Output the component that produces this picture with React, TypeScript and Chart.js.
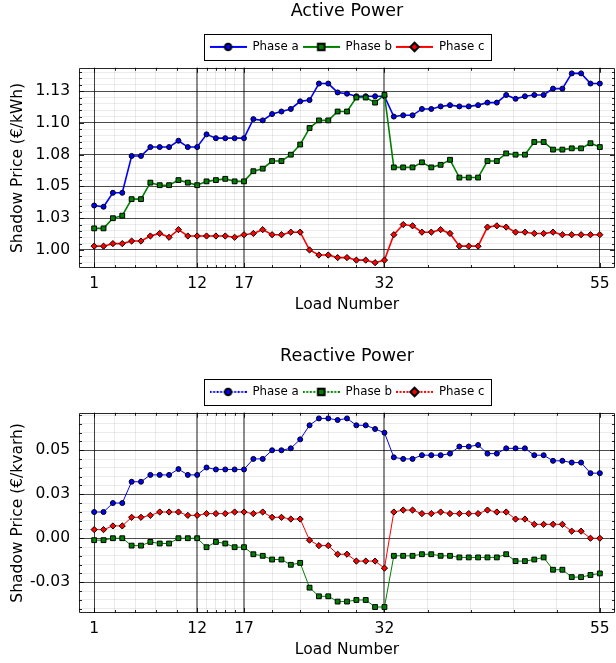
import React, { useEffect, useRef } from 'react';
import { Chart, registerables } from 'chart.js';

Chart.register(...registerables);

const FONT = "'DejaVu Sans', sans-serif";

// ---------- data ----------
const loads = [
  1, 2, 3, 4, 5, 6, 7, 8, 9, 10, 11, 12, 13, 14, 15, 16, 17, 18, 19, 20,
  21, 22, 23, 24, 25, 26, 27, 28, 29, 30, 31, 32, 33, 34, 35, 36, 37, 38, 39, 40,
  41, 42, 43, 44, 45, 46, 47, 48, 49, 50, 51, 52, 53, 54, 55,
];
const xTickValues = [1, 12, 17, 32, 55];
const xTickLabels = ['1', '12', '17', '32', '55'];
const seriesNames = ['Phase a', 'Phase b', 'Phase c'];

const activeA = [
  1.035, 1.034, 1.045, 1.045, 1.074, 1.074, 1.081, 1.081, 1.081, 1.086,
  1.081, 1.081, 1.091, 1.088, 1.088, 1.088, 1.088, 1.103, 1.102, 1.107,
  1.109, 1.111, 1.117, 1.118, 1.131, 1.131, 1.124, 1.123, 1.121, 1.121,
  1.121, 1.121, 1.105, 1.106, 1.106, 1.111, 1.111, 1.113, 1.114, 1.113,
  1.113, 1.114, 1.116, 1.116, 1.122, 1.119, 1.121, 1.122, 1.122, 1.127,
  1.127, 1.139, 1.139, 1.131, 1.131,
];
const activeB = [
  1.017, 1.017, 1.025, 1.027, 1.040, 1.040, 1.053, 1.051, 1.051, 1.055,
  1.053, 1.051, 1.054, 1.055, 1.056, 1.054, 1.054, 1.062, 1.064, 1.070,
  1.070, 1.075, 1.083, 1.096, 1.102, 1.102, 1.109, 1.109, 1.120, 1.120,
  1.116, 1.122, 1.065, 1.065, 1.065, 1.069, 1.065, 1.067, 1.071, 1.057,
  1.057, 1.057, 1.070, 1.070, 1.076, 1.075, 1.075, 1.085, 1.085, 1.079,
  1.079, 1.080, 1.080, 1.084, 1.081,
];
const activeC = [
  1.003, 1.003, 1.005, 1.005, 1.007, 1.007, 1.011, 1.013, 1.010, 1.016,
  1.011, 1.011, 1.011, 1.011, 1.011, 1.010, 1.012, 1.013, 1.016, 1.012,
  1.012, 1.014, 1.014, 1.000, 0.996, 0.996, 0.994, 0.994, 0.992, 0.992,
  0.990, 0.992, 1.012, 1.020, 1.019, 1.014, 1.014, 1.016, 1.013, 1.003,
  1.003, 1.003, 1.018, 1.019, 1.018, 1.014, 1.014, 1.013, 1.013, 1.014,
  1.012, 1.012, 1.012, 1.012, 1.012,
];
const activeYTicks = [1.0, 1.025, 1.05, 1.075, 1.1, 1.125];
const activeYLabels = ['1.00', '1.03', '1.05', '1.08', '1.10', '1.13'];

const reactiveA = [
  0.0149, 0.0149, 0.020, 0.020, 0.0321, 0.0321, 0.036, 0.036, 0.036, 0.0393,
  0.036, 0.036, 0.0402, 0.0391, 0.0391, 0.0391, 0.0391, 0.0451, 0.0451, 0.050,
  0.050, 0.0511, 0.0562, 0.0642, 0.0681, 0.0681, 0.0672, 0.0681, 0.0642, 0.0642,
  0.0621, 0.060, 0.046, 0.0451, 0.0451, 0.0472, 0.0472, 0.0472, 0.0481, 0.0521,
  0.0521, 0.053, 0.0481, 0.0481, 0.0511, 0.0511, 0.0511, 0.0472, 0.0472, 0.044,
  0.044, 0.043, 0.043, 0.037, 0.037,
];
const reactiveB = [
  -0.0011, -0.0011, 0, 0, -0.0042, -0.0042, -0.0021, -0.003, -0.003, 0,
  0, 0, -0.0051, -0.0021, -0.003, -0.0051, -0.0051, -0.0091, -0.010, -0.0121,
  -0.0121, -0.0151, -0.014, -0.0281, -0.033, -0.033, -0.036, -0.036, -0.0351, -0.0351,
  -0.0391, -0.0391, -0.010, -0.010, -0.010, -0.0091, -0.0091, -0.010, -0.010, -0.0109,
  -0.0109, -0.0109, -0.0109, -0.0109, -0.0091, -0.013, -0.013, -0.0121, -0.0109, -0.0179,
  -0.0179, -0.0221, -0.0221, -0.0209, -0.020,
];
const reactiveC = [
  0.0049, 0.0049, 0.007, 0.007, 0.0119, 0.0119, 0.013, 0.0149, 0.0149, 0.0149,
  0.013, 0.013, 0.014, 0.014, 0.014, 0.0149, 0.0149, 0.014, 0.0149, 0.0119,
  0.0119, 0.0109, 0.0109, -0.0011, -0.0042, -0.0042, -0.0091, -0.0091, -0.013, -0.013,
  -0.013, -0.017, 0.0149, 0.016, 0.016, 0.014, 0.014, 0.0149, 0.014, 0.014,
  0.014, 0.014, 0.016, 0.0149, 0.0149, 0.0109, 0.0109, 0.0079, 0.0079, 0.0079,
  0.0079, 0.004, 0.004, 0, 0,
];
const reactiveYTicks = [-0.025, 0, 0.025, 0.05];
const reactiveYLabels = ['-0.03', '0.00', '0.03', '0.05'];

// ---------- styling ----------
const COLORS = ['#0000ff', '#008000', '#ff0000'];
const STYLES = ['circle', 'rect', 'rectRot'];
const RADII = [2.5, 3.4, 3.1];

const PLOT_LEFT = 79;
const PLOT_BOTTOM = 268;

function withMinors(majors: number[], lo: number, hi: number) {
  const out: { value: number; major: boolean }[] = [];
  const sorted = [...majors].sort((p, q) => p - q);
  for (let i = 0; i < sorted.length; i++) out.push({ value: sorted[i], major: true });
  for (let i = 0; i < sorted.length - 1; i++) {
    const step = (sorted[i + 1] - sorted[i]) / 5;
    for (let k = 1; k < 5; k++) out.push({ value: sorted[i] + k * step, major: false });
  }
  if (sorted.length > 1) {
    const s0 = (sorted[1] - sorted[0]) / 5;
    for (let v = sorted[0] - s0; v >= lo; v -= s0) out.push({ value: v, major: false });
    const n = sorted.length;
    const s1 = (sorted[n - 1] - sorted[n - 2]) / 5;
    for (let v = sorted[n - 1] + s1; v <= hi; v += s1) out.push({ value: v, major: false });
  }
  return out.filter((t) => t.value >= lo && t.value <= hi).sort((p, q) => p.value - q.value);
}

function labelFor(value: number, majors: number[], labels: string[]) {
  const k = majors.findIndex((m) => Math.abs(m - value) < 1e-9);
  return k >= 0 ? labels[k] : '';
}

function makeLegendImage(i: number, dotted: boolean) {
  const c = document.createElement('canvas');
  c.width = 37;
  c.height = 14;
  const g = c.getContext('2d')!;
  g.strokeStyle = COLORS[i];
  g.lineWidth = 2;
  if (dotted) g.setLineDash([2, 1.5]);
  g.beginPath();
  g.moveTo(0, 7);
  g.lineTo(37, 7);
  g.stroke();
  g.setLineDash([]);
  g.fillStyle = COLORS[i];
  g.strokeStyle = '#000';
  g.lineWidth = 2;
  g.beginPath();
  const cx = 18.5;
  const cy = 7;
  if (STYLES[i] === 'circle') {
    g.arc(cx, cy, 3.3, 0, Math.PI * 2);
  } else if (STYLES[i] === 'rect') {
    g.rect(cx - 3.3, cy - 3.3, 6.6, 6.6);
  } else {
    g.moveTo(cx, cy - 4.3);
    g.lineTo(cx + 4.3, cy);
    g.lineTo(cx, cy + 4.3);
    g.lineTo(cx - 4.3, cy);
    g.closePath();
  }
  g.fill();
  g.stroke();
  return c;
}

const legendMargin = {
  id: 'legendMargin',
  beforeInit(chart: any) {
    const orig = chart.legend.fit;
    chart.legend.fit = function fit() {
      orig.bind(chart.legend)();
      this.height += 5;
    };
  },
};

const framePlugin = {
  id: 'frame',
  beforeDatasetsDraw(chart: any) {
    const { ctx, chartArea } = chart;
    const { left, right, top, bottom } = chartArea;
    ctx.save();
    ctx.strokeStyle = 'rgba(0,0,0,0.85)';
    ctx.lineWidth = 1;
    const xs = chart.scales.x;
    const ys = chart.scales.y;
    ctx.beginPath();
    for (const t of xs.ticks) {
      const px = Math.round(xs.getPixelForValue(t.value)) + 0.5;
      const len = t.major ? 5 : 3;
      ctx.moveTo(px, bottom);
      ctx.lineTo(px, bottom - len);
      ctx.moveTo(px, top);
      ctx.lineTo(px, top + len);
    }
    for (const t of ys.ticks) {
      const py = Math.round(ys.getPixelForValue(t.value)) + 0.5;
      const len = t.major ? 5 : 3;
      ctx.moveTo(left, py);
      ctx.lineTo(left + len, py);
      ctx.moveTo(right, py);
      ctx.lineTo(right - len, py);
    }
    ctx.stroke();
    ctx.beginPath();
    ctx.rect(Math.round(left) + 0.5, Math.round(top) + 0.5, Math.round(right - left) - 1, Math.round(bottom - top) - 1);
    ctx.stroke();
    ctx.restore();
  },
  afterDraw(chart: any) {
    const lg = chart.legend;
    const boxes = lg && lg.legendHitBoxes;
    if (!boxes || !boxes.length) return;
    const first = boxes[0];
    const last = boxes[boxes.length - 1];
    const cy = first.top + first.height / 2;
    const ctx = chart.ctx;
    ctx.save();
    ctx.strokeStyle = '#000';
    ctx.lineWidth = 1;
    const l = Math.round(first.left - 6) + 0.5;
    const r = Math.round(last.left + last.width + 7) + 0.5;
    const t = Math.round(cy - 13) + 0.5;
    ctx.strokeRect(l, t, r - l, 26);
    ctx.restore();
  },
};

type PanelProps = {
  height: number;
  title: string;
  yTitle: string;
  series: number[][];
  yMin: number;
  yMax: number;
  yTicks: number[];
  yLabels: string[];
  dotted: boolean;
  lineWidth: number;
};

function Panel(props: PanelProps) {
  const ref = useRef<HTMLCanvasElement>(null);
  useEffect(() => {
    const canvas = ref.current!;
    const { height, title, yTitle, series, yMin, yMax, yTicks, yLabels, dotted, lineWidth } = props;
    const xMin = -0.62;
    const xMax = 56.62;
    const legendImgs = [0, 1, 2].map((i) => makeLegendImage(i, dotted));
    const tickFont = { family: FONT, size: 15.5 };
    const chart = new Chart(canvas, {
      type: 'line',
      data: {
        datasets: series.map((vals, i) => ({
          label: seriesNames[i],
          data: loads.map((x, k) => ({ x, y: vals[k] })),
          borderColor: COLORS[i],
          backgroundColor: COLORS[i],
          pointBackgroundColor: COLORS[i],
          pointBorderColor: '#000',
          pointBorderWidth: 1,
          pointRadius: RADII[i],
          pointStyle: STYLES[i] as any,
          borderWidth: lineWidth,
          tension: 0,
          order: 3 - i,
        })),
      },
      options: {
        animation: false,
        responsive: false,
        devicePixelRatio: 1,
        layout: { autoPadding: false, padding: { top: 0, left: 0, right: 1, bottom: 0 } },
        plugins: {
          title: {
            display: true,
            text: title,
            fullSize: false,
            color: '#000',
            font: { family: FONT, size: 17.5, weight: 'normal' as any },
            padding: { top: 1, bottom: 15 },
          },
          legend: {
            display: true,
            fullSize: false,
            labels: {
              usePointStyle: true,
              pointStyleWidth: 37,
              padding: 4,
              color: '#000',
              font: { family: FONT, size: 11.8 },
              generateLabels(chart: any) {
                const items = (Chart.defaults.plugins.legend.labels as any).generateLabels(chart);
                return items
                  .sort((p: any, q: any) => p.datasetIndex - q.datasetIndex)
                  .map((it: any) => ({ ...it, pointStyle: legendImgs[it.datasetIndex] }));
              },
            },
          },
          tooltip: { enabled: false },
        },
        scales: {
          x: {
            type: 'linear',
            min: xMin,
            max: xMax,
            afterBuildTicks: (scale: any) => {
              scale.ticks = withMinors(xTickValues, xMin, xMax);
            },
            afterFit: (scale: any) => {
              scale.height = height - PLOT_BOTTOM;
              scale.paddingLeft = 0;
              scale.paddingRight = 0;
            },
            ticks: {
              autoSkip: false,
              maxRotation: 0,
              padding: 7,
              color: '#000',
              font: tickFont,
              callback: (value: any, index: number, ticks: any[]) =>
                ticks[index].major ? labelFor(Number(value), xTickValues, xTickLabels) : '',
            },
            grid: {
              drawTicks: false,
              color: (ctx: any) => {
                const t = ctx.tick;
                if (!t || !t.major) return 'rgba(0,0,0,0.08)';
                if (t.value === 1 || t.value === 55) return 'rgba(0,0,0,0.75)';
                return 'rgba(0,0,0,0.45)';
              },
              lineWidth: (ctx: any) => {
                const t = ctx.tick;
                if (t && t.major && t.value !== 1 && t.value !== 55) return 2;
                return 1;
              },
            },
            border: { display: false },
            title: {
              display: true,
              text: 'Load Number',
              color: '#000',
              font: { family: FONT, size: 15.5 },
              padding: { top: 0, bottom: height - 305 - 9.3 },
            },
          },
          y: {
            type: 'linear',
            min: yMin,
            max: yMax,
            afterBuildTicks: (scale: any) => {
              scale.ticks = withMinors(yTicks, yMin, yMax);
            },
            afterFit: (scale: any) => {
              scale.width = PLOT_LEFT;
              scale.paddingTop = 0;
              scale.paddingBottom = 0;
            },
            ticks: {
              autoSkip: false,
              padding: 9,
              color: '#000',
              font: tickFont,
              callback: (value: any, index: number, ticks: any[]) =>
                ticks[index].major ? labelFor(Number(value), yTicks, yLabels) : '',
            },
            grid: {
              drawTicks: false,
              color: (ctx: any) => (ctx.tick && ctx.tick.major ? 'rgba(0,0,0,0.7)' : 'rgba(0,0,0,0.08)'),
              lineWidth: 1,
            },
            border: { display: false },
            title: {
              display: true,
              text: yTitle,
              color: '#000',
              font: { family: FONT, size: 15.5 },
              padding: { top: 9, bottom: 0 },
            },
          },
        },
      } as any,
      plugins: [legendMargin, framePlugin],
    });
    return () => chart.destroy();
  }, []);
  return (
    <canvas
      ref={ref}
      width={616}
      height={props.height}
      style={{ display: 'block', width: 616, height: props.height }}
    />
  );
}

export default function App() {
  return (
    <div
      style={{
        position: 'absolute',
        left: 0,
        top: 0,
        width: 616,
        height: 663,
        overflow: 'hidden',
        background: '#fff',
      }}
    >
      <Panel
        height={345}
        title="Active Power"
        yTitle="Shadow Price (€/kWh)"
        series={[activeA, activeB, activeC]}
        yMin={0.9858}
        yMax={1.1434}
        yTicks={activeYTicks}
        yLabels={activeYLabels}
        dotted={false}
        lineWidth={1.6}
      />
      <Panel
        height={318}
        title="Reactive Power"
        yTitle="Shadow Price (€/kvarh)"
        series={[reactiveA, reactiveB, reactiveC]}
        yMin={-0.0425}
        yMax={0.0713}
        yTicks={reactiveYTicks}
        yLabels={reactiveYLabels}
        dotted={true}
        lineWidth={1}
      />
    </div>
  );
}
